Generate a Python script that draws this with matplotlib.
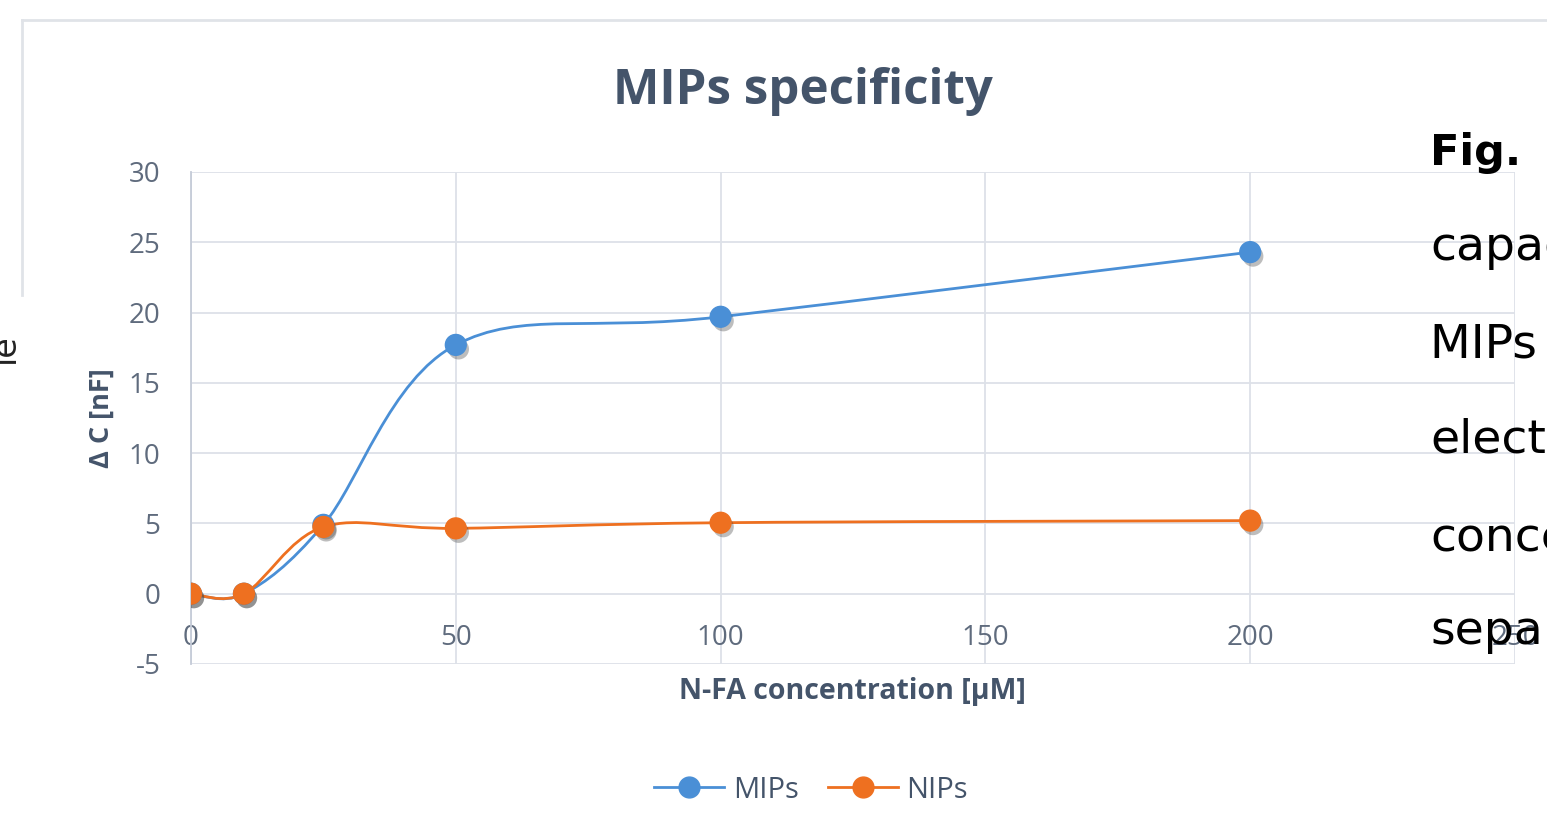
import numpy as np
import matplotlib
matplotlib.use('Agg')
import matplotlib.pyplot as plt
from matplotlib.path import Path
from matplotlib.patches import PathPatch
from matplotlib.lines import Line2D
import matplotlib.patheffects as pe

# data
conc = [0, 10, 25, 50, 100, 200]
mips = [0.0, 0.0, 4.9, 17.7, 19.7, 24.3]
nips = [0.0, 0.0, 4.75, 4.65, 5.05, 5.2]

xticks = [0, 50, 100, 150, 200, 250]
yticks = [-5, 0, 5, 10, 15, 20, 25, 30]

blue = '#4a8fd6'
orange = '#ee7020'
txt = '#44546a'
tickc = '#5f6b7d'
grid = '#dde1e8'

plt.rcParams['font.family'] = ['Open Sans', 'DejaVu Sans']
plt.rcParams['axes.unicode_minus'] = False


# Excel-like smoothed line as cubic bezier path
def smooth_path(x, y):
    pts = np.column_stack([x, y]).astype(float)
    n = len(pts)
    verts = [pts[0]]
    codes = [Path.MOVETO]
    for i in range(n - 1):
        p0 = pts[i - 1] if i > 0 else pts[i]
        p1 = pts[i]
        p2 = pts[i + 1]
        p3 = pts[i + 2] if i + 2 < n else pts[i + 1]
        c1 = p1 + (p2 - p0) / 6.0
        c2 = p2 - (p3 - p1) / 6.0
        verts += [c1, c2, p2]
        codes += [Path.CURVE4] * 3
    return Path(verts, codes)


fig = plt.figure(figsize=(15.47, 8.32), dpi=100)
ax = fig.add_axes([191 / 1547, 1 - 664 / 832, 1324 / 1547, 492 / 832])

shadow = [pe.SimplePatchShadow(offset=(2, -3), shadow_rgbFace='#444444', alpha=0.35),
          pe.Normal()]
for vals, col, z in [(mips, blue, 3), (nips, orange, 4)]:
    patch = PathPatch(smooth_path(conc, vals), facecolor='none', edgecolor=col,
                      lw=2.0, zorder=z)
    ax.add_patch(patch)
    ax.plot(conc, vals, 'o', color=col, ms=15, mec=col, zorder=z + 2,
            path_effects=shadow)

ax.set_xlim(0, 250)
ax.set_ylim(-5, 30)
ax.set_xticks(xticks)
ax.set_yticks(yticks)
ax.grid(True, color=grid, lw=1.3)
ax.set_axisbelow(True)
for s in ['top', 'right']:
    ax.spines[s].set_visible(False)
ax.spines['left'].set_color('#c5cbd8')
ax.spines['left'].set_linewidth(1.3)
ax.spines['bottom'].set_position(('data', 0))
ax.spines['bottom'].set_visible(False)
ax.tick_params(axis='both', length=0, labelsize=20, labelcolor=tickc)
ax.tick_params(axis='x', pad=22)
ax.tick_params(axis='y', pad=22)

ax.set_ylabel('Δ C [nF]', fontsize=19.5, fontweight='bold', color=txt, labelpad=10)
fig.text(852 / 1547, 1 - 691 / 832, 'N-FA concentration [μM]', fontsize=20.5,
         fontweight='bold', color=txt, ha='center', va='center')
fig.text(803 / 1547, 1 - 92 / 832, 'MIPs specificity', fontsize=35.5,
         fontweight='bold', color=txt, ha='center', va='center')

# legend
handles = [Line2D([], [], color=blue, marker='o', ms=15, lw=2),
           Line2D([], [], color=orange, marker='o', ms=15, lw=2)]
fig.legend(handles, ['MIPs', 'NIPs'], loc='center', bbox_to_anchor=(811 / 1547, 1 - 790 / 832),
           ncol=2, frameon=False, fontsize=21, labelcolor=txt, handlelength=2.4,
           columnspacing=1.0, handletextpad=0.3)

# chart border pieces
fig.add_artist(Line2D([22 / 1547, 1], [1 - 20 / 832, 1 - 20 / 832], color='#e0e3e8', lw=2))
fig.add_artist(Line2D([22 / 1547, 22 / 1547], [1 - 20 / 832, 1 - 295 / 832], color='#e0e3e8', lw=2))

# surrounding page text
fig.text(-0.008, 1 - 348 / 832, 'le', fontsize=24, rotation=90, color='#222222',
         ha='left', va='center', family='DejaVu Sans')
fig.text(1430 / 1547, 1 - 153 / 832, 'Fig.', fontsize=31, fontweight='bold',
         color='black', ha='left', va='center', family='DejaVu Sans')
words = ['capacitance', 'MIPs and', 'electrode', 'concentration', 'separately']
ys = [248, 345, 440, 538, 632]
for w, yy in zip(words, ys):
    fig.text(1430 / 1547, 1 - yy / 832, w, fontsize=34, color='black',
             ha='left', va='center', family='DejaVu Sans')

fig.savefig('out.png', dpi=100)
